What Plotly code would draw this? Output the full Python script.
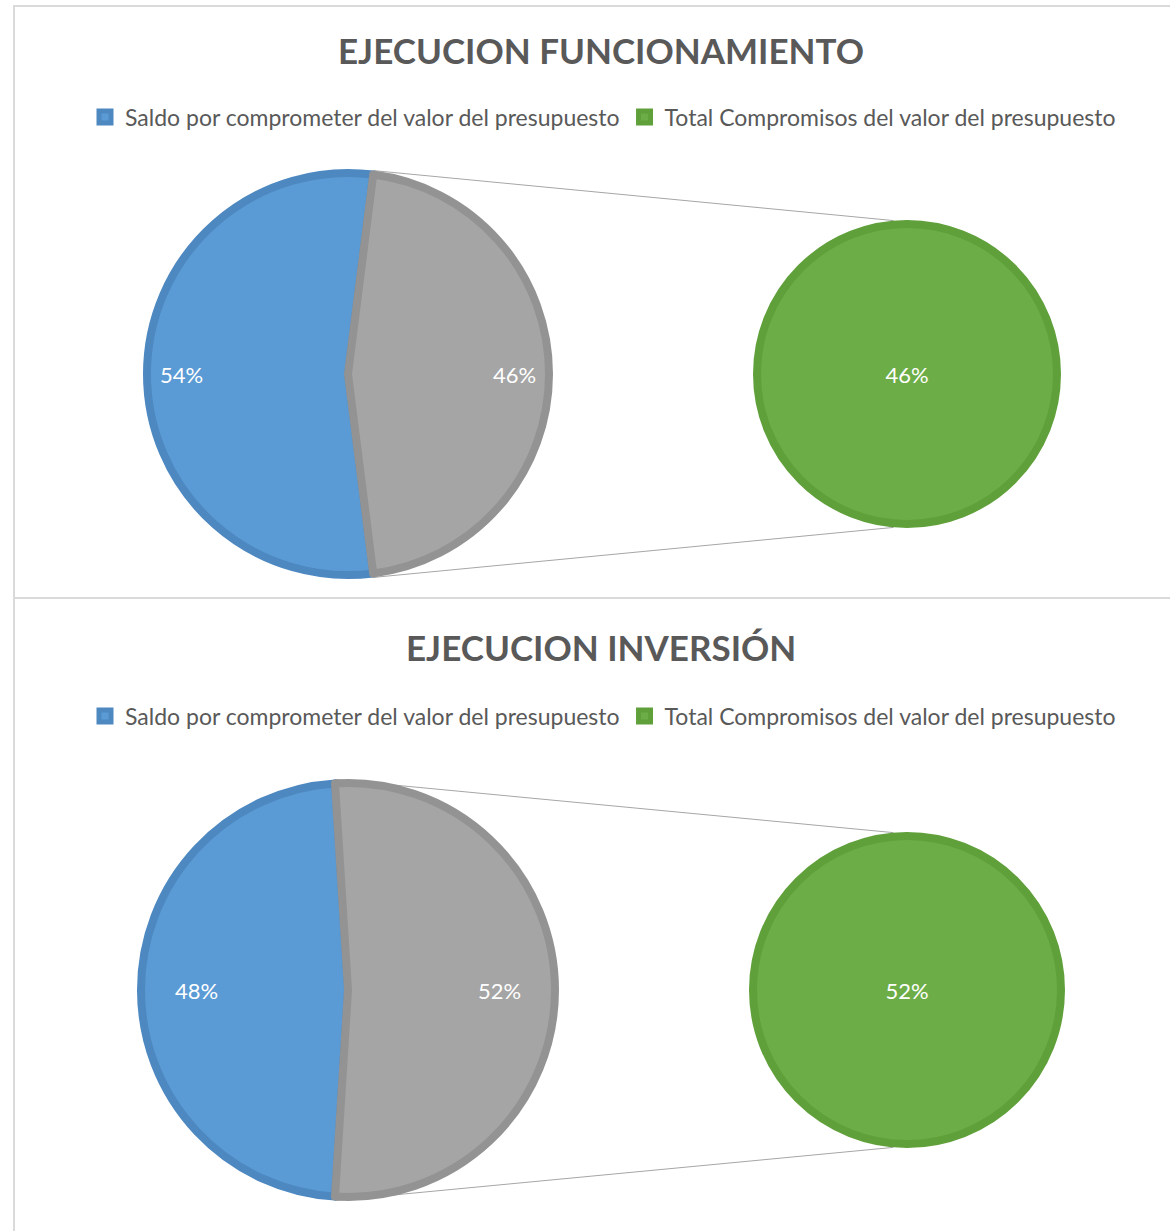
import math
import plotly.graph_objects as go

W, H = 1170, 1231

# ---------------- data (percent of budget) ----------------
chart_titles = ["EJECUCION FUNCIONAMIENTO", "EJECUCION INVERSIÓN"]
categories = ["Saldo por comprometer del valor del presupuesto",
              "Total Compromisos del valor del presupuesto"]
saldo = [54, 48]
compromisos = [46, 52]

# ---------------- style ----------------
BLUE, BLUE_LINE = "#5b9bd5", "#4d88c1"
GRAY, GRAY_LINE = "#a5a5a5", "#939393"
GREEN, GREEN_LINE = "#6dad47", "#60a03a"
TXT = "#595959"
FONT = "Lato"
LW = 8

# panel geometry in pixels
panels = [
    dict(cx=348, cy=374, R=205, cx2=907, R2=154, title_y=52, legend_y=117, k=0.81),
    dict(cx=348, cy=990, R=211, cx2=907, R2=158, title_y=647, legend_y=716, k=0.72),
]


def px(x):
    return x / W


def py(y):
    return 1 - y / H


fig = go.Figure()
annotations = []
shapes = []

for i, p in enumerate(panels):
    legend_id = "legend" if i == 0 else "legend2"
    group = f"g{i}"
    total = saldo[i] + compromisos[i]
    r = p["R"] - LW / 2
    r2 = p["R2"] - LW / 2
    cx, cy, cx2 = p["cx"], p["cy"], p["cx2"]

    # secondary pie (breakdown of the "other" slice)
    fig.add_trace(go.Pie(
        labels=[categories[1]], values=[compromisos[i]],
        marker=dict(colors=[GREEN], line=dict(color=GREEN_LINE, width=LW)),
        texttemplate="%{value}%", textposition="inside",
        insidetextorientation="horizontal",
        textfont=dict(family=FONT, size=22, color="white"),
        domain=dict(x=[px(cx2 - r2), px(cx2 + r2)], y=[py(cy + r2), py(cy - r2)]),
        sort=False, legend=legend_id, legendgroup=group, legendrank=2,
        showlegend=True, hoverinfo="label+value",
    ))

    # main pie; the "other" slice is centred at 3 o'clock
    rotation = 270 - 180 * saldo[i] / total
    fig.add_trace(go.Pie(
        labels=categories, values=[saldo[i], compromisos[i]],
        marker=dict(colors=[BLUE, GRAY], line=dict(color=[BLUE_LINE, GRAY_LINE], width=LW)),
        textinfo="none", direction="clockwise", rotation=rotation,
        domain=dict(x=[px(cx - r), px(cx + r)], y=[py(cy + r), py(cy - r)]),
        sort=False, legend=legend_id, legendgroup=group, legendrank=1,
        showlegend=True, hoverinfo="label+value",
    ))

    # slice labels, placed along each slice's mid angle
    start = rotation
    for val in (saldo[i], compromisos[i]):
        span = 360 * val / total
        mid = math.radians(start + span / 2)
        lx = cx + p["k"] * p["R"] * math.sin(mid)
        ly = cy - p["k"] * p["R"] * math.cos(mid)
        annotations.append(dict(
            x=px(lx), y=py(ly), xref="paper", yref="paper", showarrow=False,
            text=f"{val}%", font=dict(family=FONT, size=22, color="white"),
            xanchor="center", yanchor="middle"))
        start += span

    # connector lines from the "other" slice to the secondary pie
    half = 180 * compromisos[i] / total
    for a_main, a_sec in ((90 - half, -5), (90 + half, 185)):
        x0 = cx + p["R"] * math.sin(math.radians(a_main))
        y0 = cy - p["R"] * math.cos(math.radians(a_main))
        x1 = cx2 + p["R2"] * math.sin(math.radians(a_sec))
        y1 = cy - p["R2"] * math.cos(math.radians(a_sec))
        shapes.append(dict(type="line", xref="paper", yref="paper",
                           x0=px(x0), y0=py(y0), x1=px(x1), y1=py(y1),
                           line=dict(color="#a6a6a6", width=1), layer="below"))

# panel frames
frame = dict(color="#dadada", width=2)
shapes += [
    dict(type="line", xref="paper", yref="paper", x0=px(13), x1=1, y0=py(6), y1=py(6), line=frame),
    dict(type="line", xref="paper", yref="paper", x0=px(14), x1=px(14), y0=py(5), y1=0, line=frame),
    dict(type="line", xref="paper", yref="paper", x0=px(13), x1=1, y0=py(598), y1=py(598), line=frame),
]

# second chart title
annotations.append(dict(
    x=px(601), y=py(panels[1]["title_y"]), xref="paper", yref="paper", showarrow=False,
    text=chart_titles[1], font=dict(family=FONT, size=35, color=TXT, weight="bold"),
    xanchor="center", yanchor="middle"))

legend_style = dict(orientation="h", xanchor="center", yanchor="middle", x=px(603),
                    font=dict(family=FONT, size=23, color=TXT),
                    bgcolor="rgba(0,0,0,0)", traceorder="normal")

fig.update_layout(
    width=W, height=H,
    margin=dict(l=0, r=0, t=0, b=0),
    paper_bgcolor="white", plot_bgcolor="white",
    title=dict(text=chart_titles[0], x=px(601), y=py(panels[0]["title_y"]),
               xanchor="center", yanchor="middle",
               font=dict(family=FONT, size=35, color=TXT, weight="bold")),
    legend=dict(legend_style, y=py(panels[0]["legend_y"])),
    legend2=dict(legend_style, y=py(panels[1]["legend_y"])),
    annotations=annotations,
    shapes=shapes,
)

fig.write_html("out.html", config={"displayModeBar": False},
               post_script="document.body.style.margin='0';")
